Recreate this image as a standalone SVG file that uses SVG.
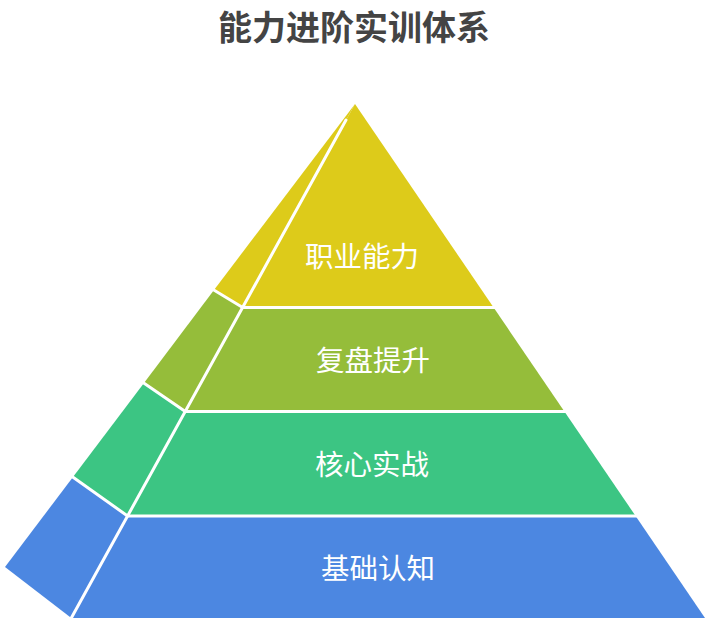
<svg xmlns="http://www.w3.org/2000/svg" width="709" height="621" viewBox="0 0 709 621">
  <style>
    .sep { stroke: #ffffff; stroke-width: 3; stroke-linecap: round; fill: none; }
    .lbl { font-family: "Noto Sans CJK SC", "Noto Sans", sans-serif; font-size: 28.5px; fill: #ffffff; text-anchor: middle; dominant-baseline: central; }
    .title { font-family: "Noto Sans CJK SC", "Noto Sans", sans-serif; font-size: 34px; font-weight: bold; fill: #444444; text-anchor: middle; dominant-baseline: central; }
    .t1 { fill: #DDCB1A; }
    .t2 { fill: #95BD3A; }
    .t3 { fill: #3CC583; }
    .t4 { fill: #4C87E1; }
  </style>
  <rect width="709" height="621" fill="#ffffff"/>
  <text class="title" x="354" y="25">能力进阶实训体系</text>

  <g id="tier4">
    <polygon class="t4" points="127.6,516 635.6,516 705,618 71.3,618"/>
    <polygon class="t4" points="73,477 127.6,516 71.3,618 5,567"/>
    <text class="lbl" x="378" y="566">基础认知</text>
  </g>
  <g id="tier3">
    <polygon class="t3" points="185.3,411.5 564.4,411.5 635.6,516 127.6,516"/>
    <polygon class="t3" points="144,383 185.3,411.5 127.6,516 73,477"/>
    <text class="lbl" x="372" y="462">核心实战</text>
  </g>
  <g id="tier2">
    <polygon class="t2" points="242.7,307.5 493.6,307.5 564.4,411.5 185.3,411.5"/>
    <polygon class="t2" points="214,290 242.7,307.5 185.3,411.5 144,383"/>
    <text class="lbl" x="373" y="358">复盘提升</text>
  </g>
  <g id="tier1">
    <polygon class="t1" points="355,104 493.6,307.5 242.7,307.5"/>
    <polygon class="t1" points="355,104 242.7,307.5 214,290"/>
    <text class="lbl" x="362" y="254">职业能力</text>
  </g>

  <g id="separators">
    <line class="sep" x1="346" y1="120" x2="71.3" y2="618"/>
    <line class="sep" x1="242.7" y1="307.5" x2="495" y2="307.5"/>
    <line class="sep" x1="185.3" y1="411.5" x2="566" y2="411.5"/>
    <line class="sep" x1="127.6" y1="516" x2="637" y2="516"/>
    <line class="sep" x1="242.7" y1="307.5" x2="213" y2="289.5"/>
    <line class="sep" x1="185.3" y1="411.5" x2="143" y2="382.5"/>
    <line class="sep" x1="127.6" y1="516" x2="72" y2="476.5"/>
  </g>
</svg>
